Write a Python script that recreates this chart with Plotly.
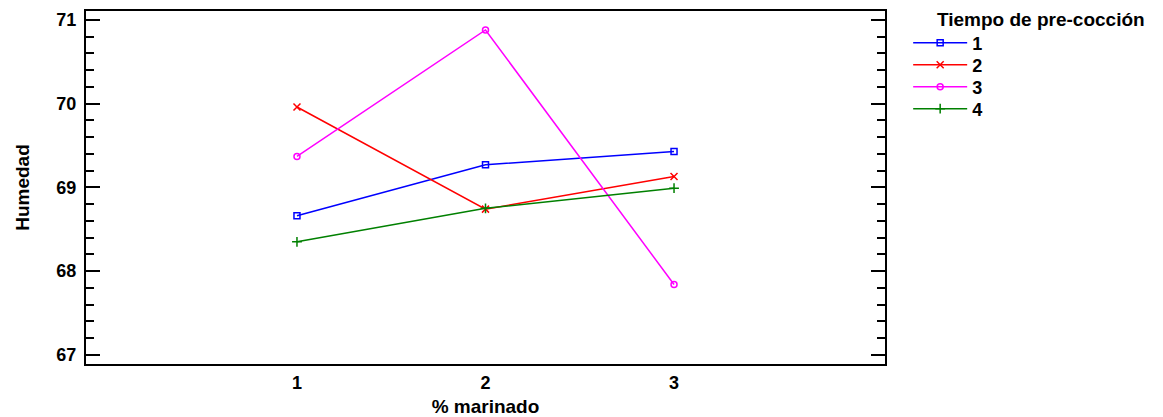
import plotly.graph_objects as go

marinado = [1, 2, 3]
series_names = ["1", "2", "3", "4"]
humedad_1 = [68.66, 69.27, 69.43]
humedad_2 = [69.96, 68.74, 69.13]
humedad_3 = [69.37, 70.88, 67.84]
humedad_4 = [68.35, 68.75, 68.99]
y_ticks = [67, 68, 69, 70, 71]
x_ticks = [1, 2, 3]

colors = ["#0000FF", "#FF0000", "#FF00FF", "#008000"]
symbols = ["square-open", "x-thin-open", "circle-open", "cross-thin-open"]
sizes = [6, 7, 6, 7]

FAM = "Liberation Sans, Arial, sans-serif"
TICKFONT = dict(family=FAM, size=18, color="black", weight="bold")
TITLEFONT = dict(family=FAM, size=19, color="black", weight="bold")

# plot area: top 11px, bottom 364px -> height 353
legend_y = [1 - 32 / 353, 1 - 54 / 353, 1 - 76 / 353, 1 - 98 / 353]
legend_ids = ["legend", "legend2", "legend3", "legend4"]

fig = go.Figure()
for name, vals, c, s, sz, lid in zip(series_names, [humedad_1, humedad_2, humedad_3, humedad_4],
                                      colors, symbols, sizes, legend_ids):
    fig.add_trace(go.Scatter(
        x=marinado, y=vals, name=name, mode="lines+markers",
        line=dict(color=c, width=1.5),
        marker=dict(symbol=s, size=sz, color=c, line=dict(color=c, width=1.5)),
        legend=lid,
    ))

legend_common = dict(xanchor="left", yanchor="middle", font=TICKFONT, itemwidth=54,
                     bgcolor="rgba(0,0,0,0)", borderwidth=0)
layout_legends = {}
for lid, ly in zip(legend_ids, legend_y):
    layout_legends[lid] = dict(x=1.029, y=ly, **legend_common)

fig.update_layout(
    width=1163, height=417,
    margin=dict(l=86, r=278, t=11, b=53),
    paper_bgcolor="white", plot_bgcolor="white",
    font=TICKFONT,
    showlegend=True,
    annotations=[dict(text="Tiempo de pre-cocción", xref="paper", yref="paper",
                      x=1.0625, y=1.012, xanchor="left", yanchor="top", showarrow=False,
                      font=TITLEFONT)],
    **layout_legends,
)

fig.update_xaxes(
    range=[-0.119, 4.119], tickvals=x_ticks, ticktext=[str(v) for v in x_ticks],
    showgrid=False, zeroline=False, showline=True, linecolor="black", linewidth=2,
    mirror=True, ticks="", automargin=False, ticklabelstandoff=1,
    title=dict(text="% marinado", standoff=10, font=TITLEFONT),
    tickfont=TICKFONT,
)
fig.update_yaxes(
    range=[66.89, 71.107], tickvals=y_ticks,
    showgrid=False, zeroline=False, showline=True, linecolor="black", linewidth=2,
    mirror="ticks", ticks="inside", ticklen=14, tickwidth=2, tickcolor="black",
    minor=dict(dtick=0.2, tick0=67, ticks="inside", ticklen=8, tickwidth=2, tickcolor="black", showgrid=False),
    automargin=False, ticklabelstandoff=4,
    title=dict(text="Humedad", standoff=22, font=TITLEFONT),
    tickfont=TICKFONT,
)

fig.write_html("out.html")
